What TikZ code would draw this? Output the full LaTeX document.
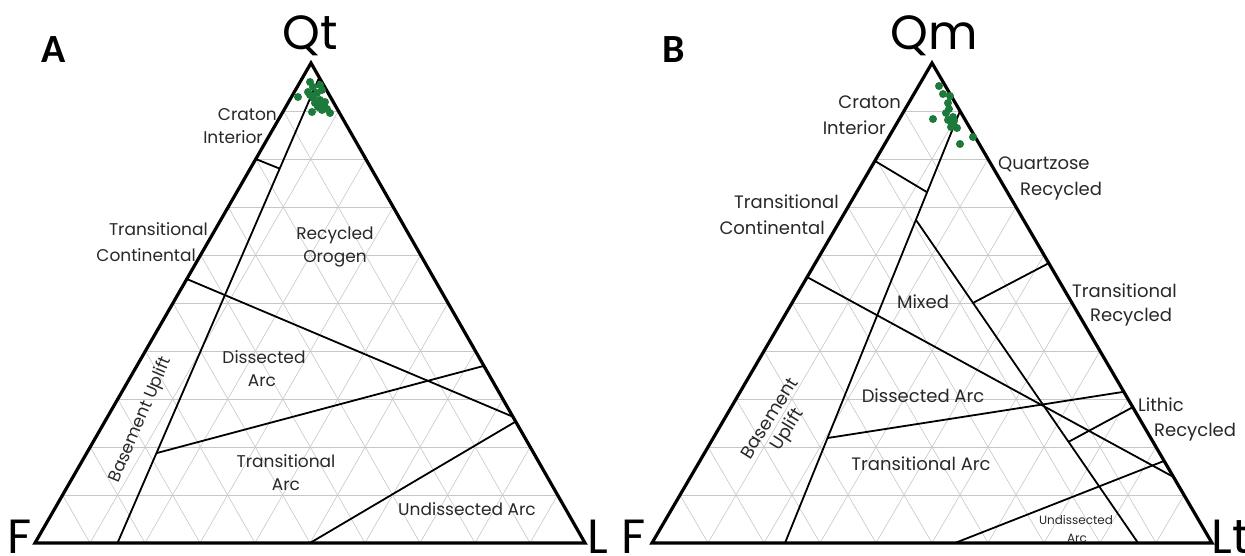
\documentclass[tikz,border=0pt]{standalone}
\usepackage{fontspec}
\setmainfont{Poppins}
\newfontfamily\panelfont{Carlito}
\usetikzlibrary{calc}
\definecolor{dotgreen}{RGB}{28,122,58}
\definecolor{labgray}{RGB}{40,40,40}
\begin{document}
\begin{tikzpicture}[x=1pt,y=-1pt,
  border/.style={line width=3.2pt,line join=miter},
  fieldline/.style={line width=1.8pt},
  gridline/.style={line width=0.6pt,draw=black!22},
  lab/.style={inner sep=0pt,text=labgray,font=\fontsize{17}{19}\selectfont},
  blab/.style={inner sep=0pt,text=labgray,font=\fontsize{18}{20}\selectfont},
  smalllab/.style={inner sep=0pt,text=labgray,font=\fontsize{12}{13}\selectfont},
  apexlab/.style={inner sep=0pt,text=black,font=\fontsize{48}{50}\selectfont},
  panellab/.style={inner sep=0pt,text=black,font=\panelfont\bfseries\fontsize{40}{44}\selectfont},
  ptdot/.style={fill=dotgreen,draw=none}]
\useasboundingbox (0,0) rectangle (1245,556);
\fill[white] (0,0) rectangle (1245,556);

% ---------------- Panel A ----------------
\coordinate (Aq) at (311,63);
\coordinate (Af) at (35,543);
\coordinate (Al) at (585,543);
\foreach \k in {1,...,9}{
  \pgfmathsetmacro\a{\k/10}\pgfmathsetmacro\b{1-\k/10}
  \draw[gridline] (barycentric cs:Aq=\a,Af=\b) -- (barycentric cs:Aq=\a,Al=\b);
  \draw[gridline] (barycentric cs:Af=\a,Aq=\b) -- (barycentric cs:Af=\a,Al=\b);
  \draw[gridline] (barycentric cs:Al=\a,Aq=\b) -- (barycentric cs:Al=\a,Af=\b);
}
\coordinate (a1) at (barycentric cs:Aq=0.97,Af=0,Al=0.03);
\coordinate (a2) at (barycentric cs:Aq=0,Af=0.85,Al=0.15);
\coordinate (a3) at (barycentric cs:Aq=0.8,Af=0.2,Al=0);
\coordinate (a4) at ($(a1)!0.196!(a2)$);
\coordinate (a5) at (barycentric cs:Aq=0.55,Af=0.45,Al=0);
\coordinate (a6) at (barycentric cs:Aq=0.263,Af=0,Al=0.737);
\coordinate (a7) at ($(a1)!0.807!(a2)$);
\coordinate (a8) at (barycentric cs:Aq=0.369,Af=0,Al=0.631);
\coordinate (a9) at (barycentric cs:Aq=0,Af=0.5,Al=0.5);
\coordinate (a10) at (barycentric cs:Aq=0.253,Af=0,Al=0.747);
\draw[fieldline] (a1) -- (a2);
\draw[fieldline] (a3) -- (a4);
\draw[fieldline] (a5) -- (a6);
\draw[fieldline] (a7) -- (a8);
\draw[fieldline] (a9) -- (a10);
\draw[border] (Aq) -- (Af) -- (Al) -- cycle;

\foreach \x/\y in {310/82,313/87,320/85,308/92,317/93,322/90,298/97,313/98,320/100,325/102,318/107,322/110,327/109,315/103,323/105,310/95,330/113,312/112}
  \fill[ptdot] (\x,\y) circle (4);

\node[panellab] (pA) at (54,50) {A};
\node[apexlab,anchor=base] (qt) at (310,50) {Qt};
\node[apexlab,anchor=base] (fA) at (20,553) {F};
\node[apexlab,anchor=base] (lA) at (598,553) {L};
\node[lab,anchor=east] (ci1) at (277,115) {Craton};
\node[lab,anchor=east] (ci2) at (263,137) {Interior};
\node[lab,anchor=east] (tc1) at (208,229) {Transitional};
\node[lab,anchor=east] (tc2) at (196,255) {Continental};
\node[lab] (ro1) at (335,235) {Recycled};
\node[lab] (ro2) at (335,259) {Orogen};
\node[lab] (da1) at (264,357) {Dissected};
\node[lab] (da2) at (262,381) {Arc};
\node[lab,rotate=67] (bu) at (141,420) {Basement Uplift};
\node[lab] (ta1) at (286,461) {Transitional};
\node[lab] (ta2) at (286,485) {Arc};
\node[lab] (ua) at (467,509) {Undissected Arc};

% ---------------- Panel B ----------------
\coordinate (Bq) at (932,63);
\coordinate (Bf) at (652,543);
\coordinate (Bl) at (1212,543);
\foreach \k in {1,...,9}{
  \pgfmathsetmacro\a{\k/10}\pgfmathsetmacro\b{1-\k/10}
  \draw[gridline] (barycentric cs:Bq=\a,Bf=\b) -- (barycentric cs:Bq=\a,Bl=\b);
  \draw[gridline] (barycentric cs:Bf=\a,Bq=\b) -- (barycentric cs:Bf=\a,Bl=\b);
  \draw[gridline] (barycentric cs:Bl=\a,Bq=\b) -- (barycentric cs:Bl=\a,Bf=\b);
}
\coordinate (b1) at (barycentric cs:Bq=0.90,Bf=0,Bl=0.10);
\coordinate (b2) at (barycentric cs:Bq=0,Bf=0.7625,Bl=0.2375);
\coordinate (b3) at (barycentric cs:Bq=0.796,Bf=0.204,Bl=0);
\coordinate (b4) at ($(b1)!0.188!(b2)$);
\coordinate (b5) at (barycentric cs:Bq=0.554,Bf=0.446,Bl=0);
\coordinate (b6) at (barycentric cs:Bq=0.1375,Bf=0,Bl=0.8625);
\coordinate (b7) at ($(b1)!0.252!(b2)$);
\coordinate (b8) at (barycentric cs:Bq=0,Bf=0.132,Bl=0.868);
\coordinate (b9) at ($(b7)!0.257!(b8)$);
\coordinate (b10) at (barycentric cs:Bq=0.583,Bf=0,Bl=0.417);
\coordinate (b11) at ($(b1)!0.757!(b2)$);
\coordinate (b12) at (barycentric cs:Bq=0.315,Bf=0,Bl=0.685);
\coordinate (b13) at ($(b7)!0.687!(b8)$);
\coordinate (b14) at (barycentric cs:Bq=0.283,Bf=0,Bl=0.717);
\coordinate (b15) at (barycentric cs:Bq=0,Bf=0.459,Bl=0.541);
\coordinate (b16) at (barycentric cs:Bq=0.171,Bf=0,Bl=0.829);
\draw[fieldline] (b1) -- (b2);
\draw[fieldline] (b3) -- (b4);
\draw[fieldline] (b5) -- (b6);
\draw[fieldline] (b7) -- (b8);
\draw[fieldline] (b9) -- (b10);
\draw[fieldline] (b11) -- (b12);
\draw[fieldline] (b13) -- (b14);
\draw[fieldline] (b15) -- (b16);
\draw[border] (Bq) -- (Bf) -- (Bl) -- cycle;

\foreach \x/\y in {939/86,943/94,950/96,948/103,949/109,946/113,953/117,933/119,948/120,952/123,954/126,957/128,951/127,954/121,973/137,960/144}
  \fill[ptdot] (\x,\y) circle (4);

\node[panellab] (pB) at (674,50) {B};
\node[apexlab,anchor=base] (qm) at (934,50) {Qm};
\node[apexlab,anchor=base] (fB) at (634,553) {F};
\node[apexlab,anchor=base] (ltB) at (1231,553) {Lt};
\node[blab,anchor=east] (bci1) at (901,102) {Craton};
\node[blab,anchor=east] (bci2) at (886,128) {Interior};
\node[blab,anchor=west] (qr1) at (998,164) {Quartzose};
\node[blab,anchor=west] (qr2) at (1020,191) {Recycled};
\node[blab,anchor=east] (btc1) at (839,202) {Transitional};
\node[blab,anchor=east] (btc2) at (825,228) {Continental};
\node[blab] (mx) at (923,302) {Mixed};
\node[blab,anchor=west] (tr1) at (1072,291) {Transitional};
\node[blab,anchor=west] (tr2) at (1090,317) {Recycled};
\node[blab] (bda) at (923,396) {Dissected Arc};
\node[blab,anchor=west] (lr1) at (1138,405) {Lithic};
\node[blab,anchor=west] (lr2) at (1154,432) {Recycled};
\node[blab] (bta) at (921,464) {Transitional Arc};
\node[blab,rotate=58] (bbu1) at (769,418) {Basement};
\node[blab,rotate=58] (bbu2) at (788,430) {Uplift};
\node[smalllab] (bua1) at (1076,520) {Undissected};
\node[smalllab] (bua2) at (1077,538) {Arc};
\end{tikzpicture}
\end{document}
